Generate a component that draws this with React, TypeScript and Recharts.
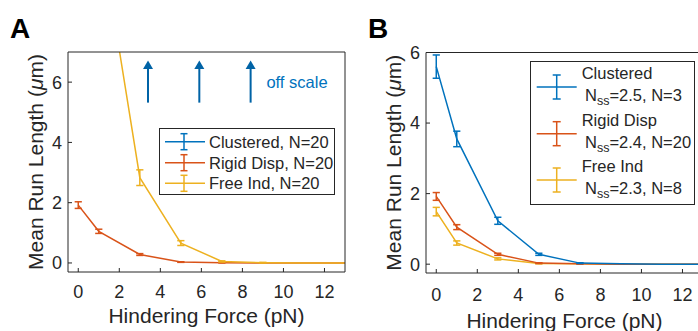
import { ErrorBar, Legend, Line, LineChart, ReferenceDot, ReferenceLine, XAxis, YAxis } from "recharts";

// hindering force (pN) sampled in both panels
const forces = [0, 1, 3, 5, 7, 9, 11, 13];

// rigid dispersed, N=20 (same in A and B)
const rigidMean = [1.92, 1.05, 0.28, 0.03, 0.01, 0.0, 0.0, 0.0];
const rigidErr = [0.11, 0.07, 0.03, 0.01, 0.01, 0.0, 0.0, 0.0];

// panel A: free independent, N=20 (first points run off scale)
const freeMeanA = [16.0, 11.3, 2.83, 0.66, 0.05, 0.01, 0.0, 0.0];
const freeErrA = [0, 0, 0.26, 0.08, 0.02, 0.01, 0.0, 0.0];

// panel B
const clusteredMeanB = [5.6, 3.55, 1.23, 0.28, 0.03, 0.01, 0.0, 0.0];
const clusteredErrB = [0.33, 0.22, 0.1, 0.03, 0.01, 0.0, 0.0, 0.0];
const freeMeanB = [1.49, 0.6, 0.15, 0.02, 0.01, 0.0, 0.0, 0.0];
const freeErrB = [0.12, 0.06, 0.03, 0.01, 0.0, 0.0, 0.0, 0.0];

const xTicks = [0, 2, 4, 6, 8, 10, 12];
const yTicks = [0, 2, 4, 6];

// "off scale" arrows for the clustered series in A
const arrowX = [3.4, 5.9, 8.4];
const arrowBase = 5.32;
const arrowTip = 6.72;

const BLUE = "#0072BD";
const ARROW = "#0063A6";
const ORANGE = "#D95319";
const YELLOW = "#EDB120";
const AXIS = "#262626";
const FONT = '"Liberation Sans", Arial, Helvetica, sans-serif';
const LW = 1.5;

const rowsA = forces.map((f, i) => ({
  force: f,
  rigid: rigidMean[i],
  rigidErr: rigidErr[i],
  free: freeMeanA[i],
  freeErr: freeErrA[i],
}));

const rowsB = forces.map((f, i) => ({
  force: f,
  clustered: clusteredMeanB[i],
  clusteredErr: clusteredErrB[i],
  rigid: rigidMean[i],
  rigidErr: rigidErr[i],
  free: freeMeanB[i],
  freeErr: freeErrB[i],
}));

const legendA = [
  { name: "Clustered, N=20", color: BLUE },
  { name: "Rigid Disp, N=20", color: ORANGE },
  { name: "Free Ind, N=20", color: YELLOW },
];

const legendB = [
  { name: "Clustered", nss: "2.5", n: "3", color: BLUE },
  { name: "Rigid Disp", nss: "2.4", n: "20", color: ORANGE },
  { name: "Free Ind", nss: "2.3", n: "8", color: YELLOW },
];

const tickStyle = { fontSize: 18, fill: AXIS, fontFamily: FONT };

function yLabel(props: any) {
  const vb = props.viewBox;
  const cx = vb.x + vb.width / 2;
  const cy = vb.y + vb.height / 2;
  return (
    <text
      x={cx}
      y={cy}
      transform={`rotate(-90 ${cx} ${cy})`}
      textAnchor="middle"
      dominantBaseline="central"
      fontSize={21}
      fill={AXIS}
      fontFamily={FONT}
    >
      Mean Run Length (<tspan fontStyle="italic">μ</tspan>m)
    </text>
  );
}

function ErrMark({ x, y, half, cap, color }: any) {
  return (
    <g stroke={color} strokeWidth={LW}>
      <line x1={x} y1={y - half} x2={x} y2={y + half} />
      <line x1={x - cap} y1={y - half} x2={x + cap} y2={y - half} />
      <line x1={x - cap} y1={y + half} x2={x + cap} y2={y + half} />
    </g>
  );
}

function LegendBoxA() {
  const rows = [13.7, 34.7, 55.3];
  return (
    <svg width={176} height={67} style={{ display: "block" }}>
      <rect x={0.5} y={0.5} width={175} height={66} fill="#fff" stroke={AXIS} />
      {legendA.map((s, i) => (
        <g key={s.name}>
          <line x1={6} x2={46} y1={rows[i]} y2={rows[i]} stroke={s.color} strokeWidth={LW} />
          <ErrMark x={25} y={rows[i]} half={8} cap={3.5} color={s.color} />
          <text x={50} y={rows[i]} dominantBaseline="central" fontSize={16.5} fill={AXIS} fontFamily={FONT}>
            {s.name}
          </text>
        </g>
      ))}
    </svg>
  );
}

function LegendBoxB() {
  const lineY = [26, 72.7, 119];
  return (
    <svg width={165} height={144} style={{ display: "block" }}>
      <rect x={0.5} y={0.5} width={164} height={143} fill="#fff" stroke={AXIS} />
      {legendB.map((s, i) => (
        <g key={s.name}>
          <line x1={6.7} x2={46.7} y1={lineY[i]} y2={lineY[i]} stroke={s.color} strokeWidth={LW} />
          <ErrMark x={26.7} y={lineY[i]} half={12} cap={4} color={s.color} />
          <text x={51.7} y={lineY[i] - 13.7} dominantBaseline="central" fontSize={16.5} fill={AXIS} fontFamily={FONT}>
            {s.name}
          </text>
          <text x={55} y={lineY[i] + 8} dominantBaseline="central" fontSize={16.5} fill={AXIS} fontFamily={FONT}>
            N<tspan fontSize={12.5} dy={6}>ss</tspan>
            <tspan dy={-6}>={s.nss}, N={s.n}</tspan>
          </text>
        </g>
      ))}
    </svg>
  );
}

function ArrowHead(props: any) {
  const { cx, cy } = props;
  return <polygon points={`${cx},${cy} ${cx - 5},${cy + 8.5} ${cx + 5},${cy + 8.5}`} fill={ARROW} />;
}

function OffScaleText(props: any) {
  return (
    <text x={props.cx} y={props.cy} dominantBaseline="central" fontSize={16.5} fill={BLUE} fontFamily={FONT}>
      off scale
    </text>
  );
}

function PanelA() {
  return (
    <LineChart width={350} height={331} data={rowsA} margin={{ top: 51, right: 4, bottom: 0, left: 2 }}>
      <XAxis
        dataKey="force"
        type="number"
        domain={[-0.5, 13]}
        ticks={xTicks}
        interval={0}
        allowDataOverflow
        height={59}
        tickSize={-4}
        tickMargin={17}
        tick={tickStyle}
        stroke={AXIS}
        label={{ value: "Hindering Force (pN)", position: "insideBottom", offset: 8.5, fontSize: 21, fill: AXIS, fontFamily: FONT }}
      />
      <XAxis xAxisId="top" orientation="top" type="number" domain={[-0.5, 13]} ticks={xTicks} interval={0} height={1} tickSize={-4} tick={false} stroke={AXIS} />
      <YAxis
        type="number"
        domain={[-0.3, 7]}
        ticks={yTicks}
        interval={0}
        allowDataOverflow
        width={66}
        tickSize={-4}
        tickMargin={10}
        tick={tickStyle}
        stroke={AXIS}
        label={{ content: yLabel }}
      />
      <YAxis yAxisId="right" orientation="right" type="number" domain={[-0.3, 7]} ticks={yTicks} interval={0} width={1} tickSize={-4} tick={false} stroke={AXIS} />
      <Line dataKey="rigid" stroke={ORANGE} strokeWidth={LW} dot={false} isAnimationActive={false}>
        <ErrorBar dataKey="rigidErr" width={3.6} stroke={ORANGE} strokeWidth={LW} direction="y" isAnimationActive={false} />
      </Line>
      <Line dataKey="free" stroke={YELLOW} strokeWidth={LW} dot={false} isAnimationActive={false}>
        <ErrorBar dataKey="freeErr" width={3.6} stroke={YELLOW} strokeWidth={LW} direction="y" isAnimationActive={false} />
      </Line>
      {arrowX.map((x) => (
        <ReferenceLine key={`s${x}`} segment={[{ x, y: arrowBase }, { x, y: arrowTip - 0.15 }]} stroke={ARROW} strokeWidth={2} />
      ))}
      {arrowX.map((x) => (
        <ReferenceDot key={`h${x}`} x={x} y={arrowTip} shape={ArrowHead} />
      ))}
      <ReferenceDot x={9.17} y={6} shape={OffScaleText} />
      <Legend
        layout="horizontal"
        verticalAlign="middle"
        align="center"
        content={() => <LegendBoxA />}
        wrapperStyle={{ left: 159, top: 128, width: 176, height: 67 }}
      />
    </LineChart>
  );
}

function PanelB() {
  return (
    <LineChart width={360} height={331} data={rowsB} margin={{ top: 51.5, right: 6, bottom: 0, left: 10.6 }}>
      <XAxis
        dataKey="force"
        type="number"
        domain={[-0.5, 13]}
        ticks={xTicks}
        interval={0}
        allowDataOverflow
        height={58}
        tickSize={-4}
        tickMargin={19}
        tick={tickStyle}
        stroke={AXIS}
        label={{ value: "Hindering Force (pN)", position: "insideBottom", offset: 3.5, fontSize: 21, fill: AXIS, fontFamily: FONT }}
      />
      <XAxis xAxisId="top" orientation="top" type="number" domain={[-0.5, 13]} ticks={xTicks} interval={0} height={1} tickSize={-4} tick={false} stroke={AXIS} />
      <YAxis
        type="number"
        domain={[-0.25, 6]}
        ticks={yTicks}
        interval={0}
        allowDataOverflow
        width={65.4}
        tickSize={-4}
        tickMargin={10}
        tick={tickStyle}
        stroke={AXIS}
        label={{ content: yLabel }}
      />
      <YAxis yAxisId="right" orientation="right" type="number" domain={[-0.25, 6]} ticks={yTicks} interval={0} width={1} tickSize={-4} tick={false} stroke={AXIS} />
      <Line dataKey="free" stroke={YELLOW} strokeWidth={LW} dot={false} isAnimationActive={false}>
        <ErrorBar dataKey="freeErr" width={3.6} stroke={YELLOW} strokeWidth={LW} direction="y" isAnimationActive={false} />
      </Line>
      <Line dataKey="rigid" stroke={ORANGE} strokeWidth={LW} dot={false} isAnimationActive={false}>
        <ErrorBar dataKey="rigidErr" width={3.6} stroke={ORANGE} strokeWidth={LW} direction="y" isAnimationActive={false} />
      </Line>
      <Line dataKey="clustered" stroke={BLUE} strokeWidth={LW} dot={false} isAnimationActive={false}>
        <ErrorBar dataKey="clusteredErr" width={3.6} stroke={BLUE} strokeWidth={LW} direction="y" isAnimationActive={false} />
      </Line>
      <Legend
        layout="horizontal"
        verticalAlign="middle"
        align="center"
        content={() => <LegendBoxB />}
        wrapperStyle={{ left: 180, top: 61, width: 165, height: 144 }}
      />
    </LineChart>
  );
}

const panelLabel = {
  position: "absolute" as const,
  top: 14.8,
  fontSize: 28,
  lineHeight: "28px",
  fontWeight: 700,
  fontFamily: FONT,
  color: "#000",
};

export default function App() {
  return (
    <div
      style={{
        position: "absolute",
        left: 0,
        top: 0,
        width: 698,
        height: 331,
        overflow: "hidden",
        background: "#fff",
        fontFamily: FONT,
      }}
    >
      <div style={{ position: "absolute", left: 0, top: 0 }}>
        <PanelA />
      </div>
      <div style={{ position: "absolute", left: 350, top: 0 }}>
        <PanelB />
      </div>
      <div style={{ ...panelLabel, left: 10 }}>A</div>
      <div style={{ ...panelLabel, left: 368 }}>B</div>
    </div>
  );
}
